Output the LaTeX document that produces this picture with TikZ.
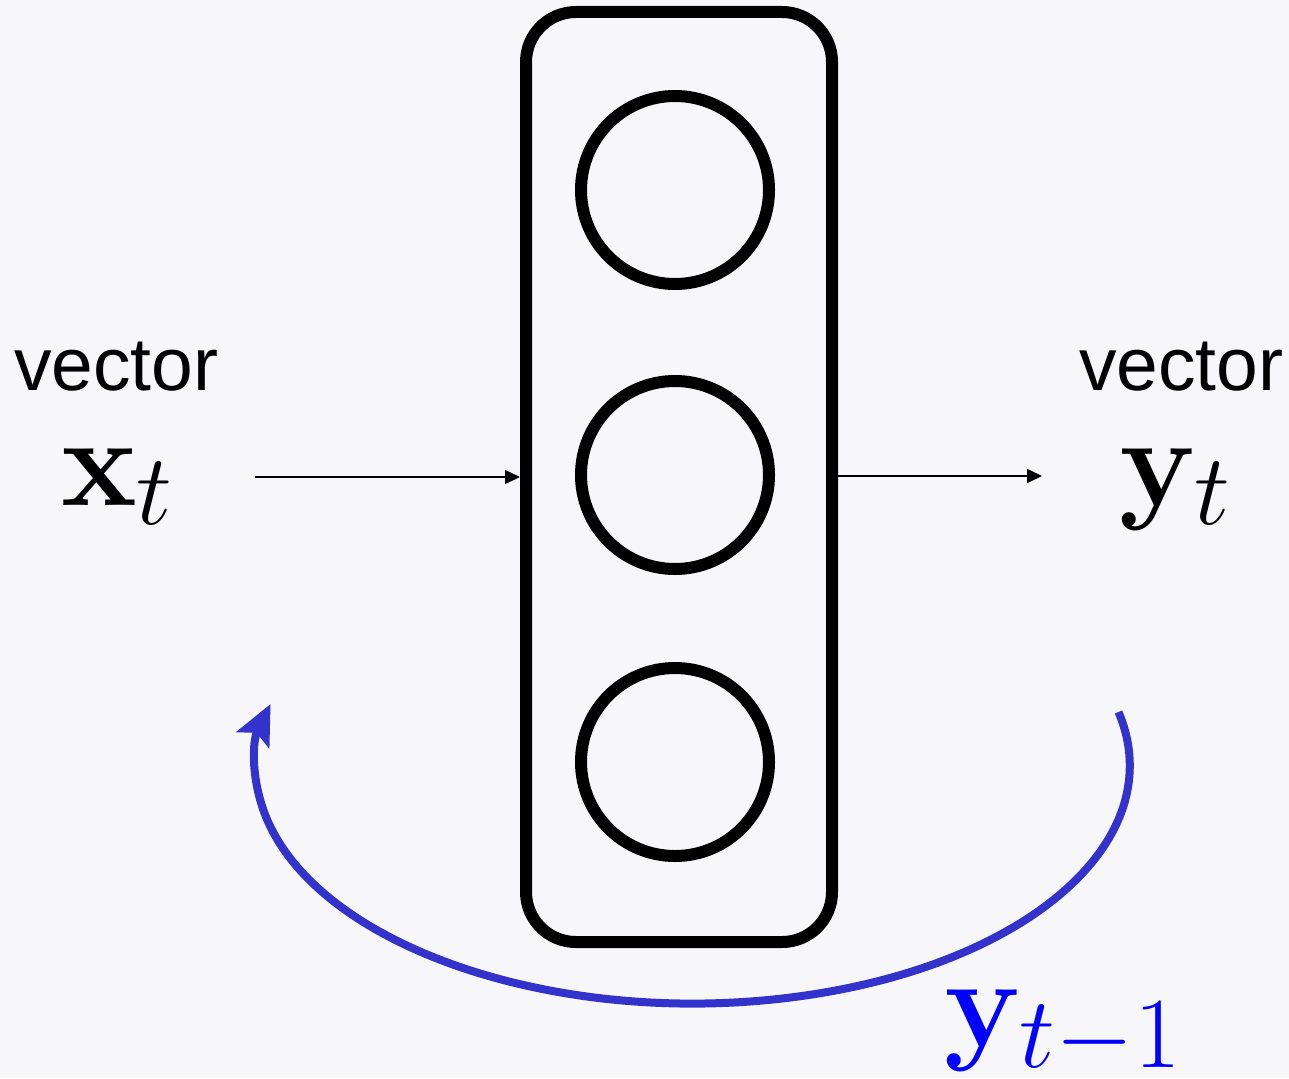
\RequirePackage{fix-cm}
\documentclass[tikz,border=0pt]{standalone}
\usepackage[no-math]{fontspec}
\newfontfamily\arialfont{Liberation Sans}
\usepackage{amsmath}
\usepackage{graphicx}
\usetikzlibrary{arrows.meta}
\newcommand{\mathlab}[2]{\scalebox{1.1}{$\mathbf{#1}_{\scalebox{1.13}{$\scriptstyle #2$}}$}}
\definecolor{bgcol}{RGB}{247,247,250}
\definecolor{fbblue}{RGB}{51,51,204}
\definecolor{lblblue}{RGB}{0,0,255}
\tikzset{
  unitbox/.style={draw=black, line width=12pt, rounded corners=50pt, inner sep=0pt, minimum width=306pt, minimum height=930pt},
  neuron/.style={draw=black, line width=12pt, circle, inner sep=0pt, minimum size=188pt},
  thinarrow/.style={draw=black, line width=1.6pt, -{Triangle[length=15pt,width=14pt]}},
  feedback/.style={draw=fbblue, line width=8pt, -{Stealth[length=40pt,width=36pt,inset=8pt]}},
  wordlbl/.style={inner sep=0pt, anchor=base west, font=\arialfont\fontsize{75}{88}\selectfont},
  mathlbl/.style={inner sep=0pt, anchor=base west, font=\fontsize{116}{140}\selectfont},
}
\begin{document}
\begin{tikzpicture}[x=1pt,y=-1pt]
\useasboundingbox[fill=bgcol] (0,0) rectangle (1289,1078);
\node[unitbox] (box) at (679,477) {};
\node[neuron] (n1) at (675,190) {};
\node[neuron] (n2) at (675,475) {};
\node[neuron] (n3) at (675,762) {};
\node[wordlbl] (vin) at (14,390) {vector};
\node[wordlbl] (vout) at (1079,390) {vector};
\node[mathlbl] (xt) at (61,505) {\mathlab{x}{t}};
\node[mathlbl] (yt) at (1119,505) {\mathlab{y}{t}};
\node[mathlbl, text=lblblue] (ytm) at (944,1046) {\mathlab{y}{t-1}};
\coordinate (xin) at (255,477);
\coordinate (yout) at (1042,476);
\coordinate (fbstart) at (1118.5,712);
\draw[thinarrow] (xin) -- (xin -| box.west);
\draw[thinarrow] (yout -| box.east) -- (yout);
\draw[feedback] (fbstart) arc[start angle=-13, end angle=195, x radius=437, y radius=238];
\end{tikzpicture}
\end{document}
